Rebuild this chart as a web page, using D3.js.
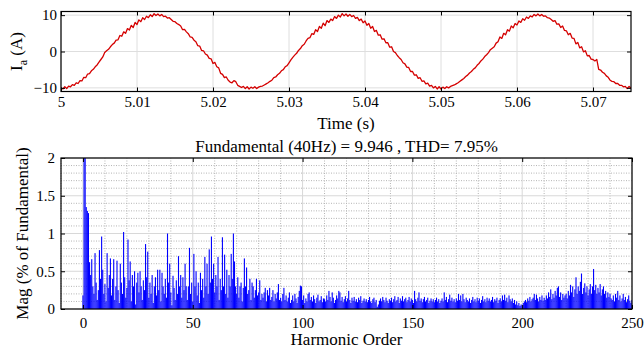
<!DOCTYPE html>
<html>
<head>
<meta charset="utf-8">
<script src="https://cdn.jsdelivr.net/npm/d3@7/dist/d3.min.js"></script>
<style>
  body { margin: 0; background: #fff; }
  svg, svg text { font-family: "Liberation Serif", "Times New Roman", serif !important; }
</style>
</head>
<body>
<div id="chart"></div>
<script>
// current samples, one every 0.25 ms starting at t = 5 s
const tStart = 5, tStep = 0.00025;
const current = [
  -10.0,-10.3,-9.7,-10.2,-9.5,-9.7,-9.1,-9.3,-8.6,-8.8,
  -8.0,-8.1,-7.1,-7.2,-6.2,-6.1,-5.3,-4.9,-4.2,-3.7,
  -2.9,-2.2,-1.5,-0.3,0.2,0.6,1.3,1.9,2.3,3.1,
  3.2,4.4,4.2,5.4,5.0,6.3,5.9,7.2,6.6,8.0,
  7.4,8.7,8.2,9.3,8.8,9.7,9.3,10.1,9.6,10.4,
  9.9,10.3,9.8,10.2,9.6,9.7,9.2,9.3,8.8,8.3,
  8.2,7.7,7.4,7.0,6.0,6.1,5.4,4.9,4.0,3.9,
  3.1,2.7,1.6,1.5,0.3,0.2,-0.7,-1.0,-1.9,-2.0,
  -3.3,-3.0,-4.2,-4.5,-6.0,-6.3,-7.2,-7.0,-7.9,-8.4,
  -8.6,-8.0,-8.3,-9.3,-9.6,-9.9,-9.6,-10.2,-9.7,-10.3,
  -9.8,-10.1,-9.7,-10.2,-9.8,-9.6,-9.5,-9.2,-8.9,-8.6,
  -8.2,-7.9,-7.2,-7.0,-6.4,-6.0,-5.3,-5.0,-4.2,-3.9,
  -3.1,-2.3,-1.6,-1.0,-0.5,0.3,0.8,1.6,2.0,2.9,
  3.6,3.8,4.9,4.7,6.0,5.5,6.9,6.4,7.8,7.1,
  8.5,8.0,8.9,8.5,9.6,9.1,10.0,9.5,10.4,9.8,
  10.3,9.7,10.2,9.6,9.9,9.1,9.4,8.5,8.9,7.9,
  8.4,7.2,7.7,6.4,6.9,5.5,5.8,4.5,4.6,3.4,
  3.5,2.4,2.4,1.2,1.3,0.0,-0.3,-1.1,-1.7,-2.2,
  -3.1,-3.4,-4.3,-4.4,-5.5,-5.5,-6.5,-6.4,-7.4,-7.2,
  -8.2,-8.1,-8.9,-8.7,-9.5,-9.3,-10.0,-9.6,-10.3,-9.7,
  -10.3,-9.8,-10.2,-9.7,-10.0,-9.6,-9.4,-9.2,-8.9,-8.6,
  -8.2,-7.8,-7.4,-6.9,-6.5,-5.9,-5.5,-4.9,-4.5,-3.8,
  -3.3,-2.6,-2.1,-1.4,-0.9,-0.3,0.5,0.9,1.3,2.3,
  2.7,4.0,3.6,5.0,4.6,6.0,5.6,7.0,6.5,7.7,
  7.3,8.4,8.0,9.0,8.6,9.5,9.1,9.8,9.5,10.2,
  9.8,10.3,9.8,10.2,9.7,9.8,9.3,9.2,8.8,8.3,
  8.5,7.5,7.6,6.6,7.0,5.8,5.7,4.6,5.0,3.7,
  3.6,2.1,2.5,1.0,1.3,-0.1,0.2,-1.2,-1.1,-2.1,
  -2.2,-2.6,-2.2,-4.9,-5.1,-5.7,-6.0,-6.7,-7.1,-7.9,
  -8.2,-8.3,-8.8,-8.8,-9.3,-9.3,-9.7,-9.6,-10.2,-9.6,
  -10.1
];

// harmonic spectrum, one value every 0.5 harmonic order from 0 to 250
const orderStep = 0.5;
const magnitude = [
  0.18,2.4,2.6,1.35,1.3,1.27,0.62,0.45,0.66,0.3,0.2,0.74,0.35,0.12,0.25,0.78,0.4,0.96,0.52,0.2,
  0.33,0.1,0.74,0.28,0.45,0.67,0.18,0.4,0.66,0.12,0.3,0.64,0.25,0.08,0.6,0.35,0.2,1.02,0.42,0.15,
  0.28,0.92,0.38,0.63,0.1,0.45,0.3,0.5,0.06,0.35,0.48,0.22,0.5,0.3,0.12,0.38,0.25,0.86,0.42,0.76,
  0.15,0.35,0.2,0.45,0.08,0.3,0.42,0.18,0.52,0.25,0.52,0.1,0.48,0.3,0.2,0.4,0.15,1.0,0.35,0.6,
  0.22,0.05,0.44,0.28,0.12,0.38,0.2,0.7,0.3,0.45,0.15,0.42,0.25,0.6,0.3,0.12,0.3,0.81,0.2,0.35,
  0.1,0.73,0.3,0.5,0.18,0.35,0.08,0.48,0.25,0.4,0.15,0.69,0.3,0.6,0.2,0.79,0.35,0.96,0.4,0.6,
  0.22,0.45,0.3,0.69,0.12,0.4,0.25,0.95,0.3,0.72,0.2,0.52,0.15,0.45,0.3,0.73,0.4,1.0,0.63,0.3,
  0.2,0.42,0.15,0.3,0.35,0.1,0.28,0.67,0.3,0.55,0.2,0.25,0.4,0.12,0.35,0.3,0.15,0.25,0.4,0.18,
  0.22,0.38,0.12,0.2,0.15,0.22,0.28,0.1,0.25,0.18,0.28,0.12,0.16,0.25,0.1,0.2,0.14,0.22,0.33,0.12,
  0.15,0.1,0.2,0.28,0.12,0.18,0.1,0.15,0.22,0.08,0.12,0.18,0.1,0.2,0.14,0.08,0.16,0.24,0.31,0.3,
  0.12,0.18,0.08,0.14,0.1,0.2,0.22,0.12,0.16,0.1,0.18,0.13,0.08,0.15,0.19,0.1,0.12,0.17,0.09,0.14,
  0.13,0.1,0.18,0.12,0.24,0.16,0.1,0.22,0.15,0.08,0.12,0.18,0.14,0.24,0.22,0.11,0.16,0.09,0.13,0.17,
  0.1,0.14,0.24,0.12,0.08,0.15,0.11,0.16,0.1,0.13,0.09,0.15,0.12,0.17,0.08,0.11,0.14,0.1,0.13,0.09,
  0.12,0.16,0.1,0.08,0.13,0.15,0.09,0.12,0.03,0.06,0.11,0.14,0.1,0.16,0.12,0.09,0.15,0.11,0.08,0.13,
  0.11,0.15,0.09,0.13,0.17,0.1,0.12,0.16,0.08,0.14,0.11,0.17,0.1,0.13,0.15,0.09,0.12,0.16,0.1,0.14,
  0.12,0.08,0.24,0.13,0.1,0.15,0.22,0.11,0.14,0.09,0.13,0.16,0.1,0.12,0.15,0.08,0.11,0.14,0.1,0.13,
  0.09,0.12,0.15,0.1,0.13,0.08,0.11,0.14,0.1,0.22,0.12,0.16,0.09,0.13,0.19,0.11,0.15,0.1,0.13,0.09,
  0.14,0.11,0.2,0.12,0.18,0.1,0.2,0.13,0.09,0.15,0.12,0.1,0.14,0.08,0.12,0.16,0.1,0.13,0.09,0.15,
  0.11,0.14,0.08,0.12,0.17,0.1,0.13,0.09,0.15,0.11,0.14,0.1,0.12,0.16,0.09,0.13,0.11,0.15,0.08,0.12,
  0.14,0.1,0.18,0.12,0.19,0.11,0.15,0.09,0.18,0.13,0.1,0.14,0.08,0.12,0.06,0.1,0.05,0.08,0.04,0.06,
  0.05,0.08,0.1,0.12,0.09,0.14,0.11,0.16,0.1,0.13,0.15,0.2,0.12,0.19,0.14,0.1,0.16,0.12,0.18,0.11,
  0.15,0.12,0.18,0.14,0.22,0.16,0.26,0.13,0.2,0.15,0.24,0.18,0.28,0.3,0.16,0.22,0.12,0.2,0.15,0.18,
  0.2,0.14,0.24,0.18,0.32,0.22,0.3,0.16,0.26,0.42,0.2,0.3,0.24,0.36,0.47,0.2,0.28,0.34,0.22,0.3,
  0.18,0.26,0.33,0.2,0.3,0.53,0.25,0.32,0.2,0.28,0.22,0.33,0.18,0.26,0.3,0.2,0.24,0.15,0.22,0.16,
  0.2,0.14,0.12,0.18,0.1,0.2,0.15,0.24,0.12,0.18,0.1,0.14,0.2,0.12,0.16,0.09,0.13,0.18,0.11,0.08,
  0.12
];

const timeTicks = [5, 5.01, 5.02, 5.03, 5.04, 5.05, 5.06, 5.07];
const currentTicks = [-10, 0, 10];
const orderTicks = [0, 50, 100, 150, 200, 250];
const orderMinor = [-10, 10, 20, 30, 40, 60, 70, 80, 90, 110, 120, 130, 140, 160, 170, 180, 190, 210, 220, 230, 240];
const magTicks = [0, 0.5, 1, 1.5, 2];
const magMinor = [0.1, 0.2, 0.3, 0.4, 0.6, 0.7, 0.8, 0.9, 1.1, 1.2, 1.3, 1.4, 1.6, 1.7, 1.8, 1.9];
const titleText = "Fundamental (40Hz) = 9.946 , THD= 7.95%";

const W = 644, H = 348;
const FONT = "'Liberation Serif', 'Times New Roman', serif";
const svg = d3.select("#chart").append("svg")
    .attr("width", W).attr("height", H)
    .style("font-family", FONT);

function styleAxis(g) {
  g.attr("font-family", null).attr("font-size", null);
  g.select(".domain").remove();
  g.selectAll(".tick line").attr("stroke", "#000").attr("stroke-width", 1);
  g.selectAll(".tick text").attr("fill", "#000")
    .style("font-family", FONT).style("font-size", "15px");
}

// ---------- top: phase current ----------
const p1 = { left: 61, right: 631, top: 11.5, bottom: 91.5 };
const x1 = d3.scaleLinear().domain([5, 5.075]).range([p1.left, p1.right]);
const y1 = d3.scaleLinear().domain([-11, 11]).range([p1.bottom, p1.top]);

const grid1 = svg.append("g").attr("stroke", "#dedede").attr("stroke-width", 1);
timeTicks.forEach(t => grid1.append("line")
  .attr("x1", x1(t)).attr("x2", x1(t)).attr("y1", p1.top).attr("y2", p1.bottom));
currentTicks.forEach(v => grid1.append("line")
  .attr("x1", p1.left).attr("x2", p1.right).attr("y1", y1(v)).attr("y2", y1(v)));

svg.append("clipPath").attr("id", "clip1").append("rect")
  .attr("x", p1.left).attr("y", p1.top)
  .attr("width", p1.right - p1.left).attr("height", p1.bottom - p1.top);

const line = d3.line()
  .x((d, i) => x1(tStart + i * tStep))
  .y(d => y1(d));

svg.append("path")
  .datum(current)
  .attr("clip-path", "url(#clip1)")
  .attr("fill", "none")
  .attr("stroke", "#d40000")
  .attr("stroke-width", 1.3)
  .attr("stroke-linejoin", "round")
  .attr("d", line);

svg.append("g").attr("transform", "translate(0," + p1.bottom + ")")
  .call(d3.axisBottom(x1).tickValues(timeTicks).tickSizeInner(-4).tickSizeOuter(0).tickPadding(5)
    .tickFormat(d => String(+d.toFixed(2))))
  .call(styleAxis);
svg.append("g").attr("transform", "translate(0," + p1.top + ")")
  .call(d3.axisTop(x1).tickValues(timeTicks).tickSizeInner(-4).tickSizeOuter(0).tickFormat(""))
  .call(styleAxis);
svg.append("g").attr("transform", "translate(" + p1.left + ",0)")
  .call(d3.axisLeft(y1).tickValues(currentTicks).tickSizeInner(-4).tickSizeOuter(0).tickPadding(4))
  .call(styleAxis);
svg.append("g").attr("transform", "translate(" + p1.right + ",0)")
  .call(d3.axisRight(y1).tickValues(currentTicks).tickSizeInner(-4).tickSizeOuter(0).tickFormat(""))
  .call(styleAxis);

svg.append("rect")
  .attr("x", p1.left).attr("y", p1.top)
  .attr("width", p1.right - p1.left).attr("height", p1.bottom - p1.top)
  .attr("fill", "none").attr("stroke", "#000").attr("stroke-width", 1.2);

const yLab = svg.append("text")
  .attr("transform", "translate(22," + ((p1.top + p1.bottom) / 2) + ") rotate(-90)")
  .attr("text-anchor", "middle")
  .style("font-size", "17px");
yLab.append("tspan").text("I");
yLab.append("tspan").attr("dy", 5).style("font-size", "12px").text("a");
yLab.append("tspan").attr("dy", -5).text(" (A)");

svg.append("text")
  .attr("x", (p1.left + p1.right) / 2).attr("y", 129)
  .attr("text-anchor", "middle")
  .style("font-size", "17px")
  .text("Time (s)");

// ---------- bottom: harmonic spectrum ----------
const p2 = { left: 61, right: 632, top: 158, bottom: 309 };
const x2 = d3.scaleLinear().domain([-10, 250]).range([p2.left, p2.right]);
const y2 = d3.scaleLinear().domain([0, 2]).range([p2.bottom, p2.top]);

const grid2 = svg.append("g");
orderMinor.forEach(o => grid2.append("line")
  .attr("x1", x2(o)).attr("x2", x2(o)).attr("y1", p2.top).attr("y2", p2.bottom)
  .attr("stroke", "#b4b4b4").attr("stroke-dasharray", "1,1.5"));
magMinor.forEach(v => grid2.append("line")
  .attr("x1", p2.left).attr("x2", p2.right).attr("y1", y2(v)).attr("y2", y2(v))
  .attr("stroke", "#b4b4b4").attr("stroke-dasharray", "1,1.5"));
orderTicks.forEach(o => grid2.append("line")
  .attr("x1", x2(o)).attr("x2", x2(o)).attr("y1", p2.top).attr("y2", p2.bottom)
  .attr("stroke", "#d8d8d8"));
magTicks.forEach(v => grid2.append("line")
  .attr("x1", p2.left).attr("x2", p2.right).attr("y1", y2(v)).attr("y2", y2(v))
  .attr("stroke", "#d8d8d8"));

svg.append("clipPath").attr("id", "clip2").append("rect")
  .attr("x", p2.left).attr("y", p2.top)
  .attr("width", p2.right - p2.left).attr("height", p2.bottom - p2.top);

const barW = x2(orderStep) - x2(0);
svg.append("g")
  .attr("clip-path", "url(#clip2)")
  .selectAll("rect")
  .data(magnitude)
  .enter().append("rect")
    .attr("x", (d, i) => x2(i * orderStep) - barW / 2)
    .attr("y", d => y2(d))
    .attr("width", barW)
    .attr("height", d => y2(0) - y2(d))
    .attr("fill", "#0000ff");

svg.append("g").attr("transform", "translate(0," + p2.bottom + ")")
  .call(d3.axisBottom(x2).tickValues(orderTicks).tickSizeInner(-4).tickSizeOuter(0).tickPadding(8))
  .call(styleAxis);
svg.append("g").attr("transform", "translate(0," + p2.top + ")")
  .call(d3.axisTop(x2).tickValues(orderTicks).tickSizeInner(-4).tickSizeOuter(0).tickFormat(""))
  .call(styleAxis);
svg.append("g").attr("transform", "translate(" + p2.left + ",0)")
  .call(d3.axisLeft(y2).tickValues(magTicks).tickSizeInner(-4).tickSizeOuter(0).tickPadding(6)
    .tickFormat(d => String(d)))
  .call(styleAxis);
svg.append("g").attr("transform", "translate(" + p2.right + ",0)")
  .call(d3.axisRight(y2).tickValues(magTicks).tickSizeInner(-4).tickSizeOuter(0).tickFormat(""))
  .call(styleAxis);

svg.append("rect")
  .attr("x", p2.left).attr("y", p2.top)
  .attr("width", p2.right - p2.left).attr("height", p2.bottom - p2.top)
  .attr("fill", "none").attr("stroke", "#000").attr("stroke-width", 1.2);

svg.append("text")
  .attr("x", (p2.left + p2.right) / 2).attr("y", 152)
  .attr("text-anchor", "middle")
  .style("font-size", "17px")
  .text(titleText);

svg.append("text")
  .attr("transform", "translate(28," + ((p2.top + p2.bottom) / 2) + ") rotate(-90)")
  .attr("text-anchor", "middle")
  .style("font-size", "17px")
  .text("Mag (% of Fundamental)");

svg.append("text")
  .attr("x", (p2.left + p2.right) / 2).attr("y", 345)
  .attr("text-anchor", "middle")
  .style("font-size", "17px")
  .text("Harmonic Order");
</script>
</body>
</html>
